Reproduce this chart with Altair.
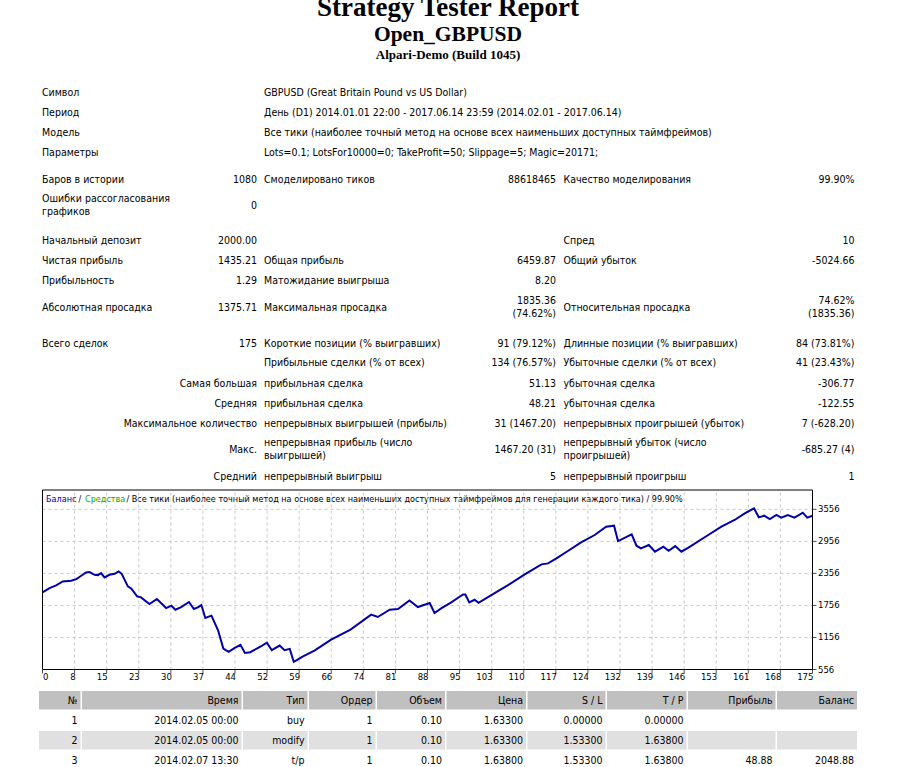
import altair as alt
import pandas as pd

# ---------------- data ----------------
report_title = "Strategy Tester Report"
expert_name = "Open_GBPUSD"
server_name = "Alpari-Demo (Build 1045)"

info_labels = ["Символ", "Период", "Модель", "Параметры"]
info_values = [
    "GBPUSD (Great Britain Pound vs US Dollar)",
    "День (D1) 2014.01.01 22:00 - 2017.06.14 23:59 (2014.02.01 - 2017.06.14)",
    "Все тики (наиболее точный метод на основе всех наименьших доступных таймфреймов)",
    "Lots=0.1; LotsFor10000=0; TakeProfit=50; Slippage=5; Magic=20171;",
]

stat_rows = [
    ["Баров в истории", "1080", "Смоделировано тиков", "88618465", "Качество моделирования", "99.90%"],
    ["Ошибки рассогласования\nграфиков", "0", "", "", "", ""],
    ["Начальный депозит", "2000.00", "", "", "Спред", "10"],
    ["Чистая прибыль", "1435.21", "Общая прибыль", "6459.87", "Общий убыток", "-5024.66"],
    ["Прибыльность", "1.29", "Матожидание выигрыша", "8.20", "", ""],
    ["Абсолютная просадка", "1375.71", "Максимальная просадка", "1835.36\n(74.62%)", "Относительная просадка", "74.62%\n(1835.36)"],
    ["Всего сделок", "175", "Короткие позиции (% выигравших)", "91 (79.12%)", "Длинные позиции (% выигравших)", "84 (73.81%)"],
    ["", "", "Прибыльные сделки (% от всех)", "134 (76.57%)", "Убыточные сделки (% от всех)", "41 (23.43%)"],
    ["", "Самая большая", "прибыльная сделка", "51.13", "убыточная сделка", "-306.77"],
    ["", "Средняя", "прибыльная сделка", "48.21", "убыточная сделка", "-122.55"],
    ["", "Максимальное количество", "непрерывных выигрышей (прибыль)", "31 (1467.20)", "непрерывных проигрышей (убыток)", "7 (-628.20)"],
    ["", "Макс.", "непрерывная прибыль (число\nвыигрышей)", "1467.20 (31)", "непрерывный убыток (число\nпроигрышей)", "-685.27 (4)"],
    ["", "Средний", "непрерывный выигрыш", "5", "непрерывный проигрыш", "1"],
]

legend_parts = ["Баланс", "/", "Средства",
                "/ Все тики (наиболее точный метод на основе всех наименьших доступных таймфреймов для генерации каждого тика) / 99.90%"]

trade_no = [0, 1.6, 3.1, 4.6, 6.5, 7.7, 8.8, 9.9, 10.7, 11.8,
            12.6, 13.3, 14.1, 15.2, 16.4, 17.3, 18.0, 19.4, 20.2, 21.5,
            22.4, 24.3, 26.0, 28.1, 29.3, 30.2, 31.5, 33.3, 34.4, 35.3,
            36.1, 37.0, 38.4, 39.9, 41.1, 42.3, 43.7, 45.0, 46.0, 47.2,
            49.7, 51.0, 52.1, 53.9, 55.0, 56.2, 57.1, 58.0, 59.0, 61.8,
            65.6, 70.0, 74.7, 76.2, 78.9, 80.8, 83.4, 85.3, 88.0, 89.1,
            90.6, 92.9, 94.8, 95.6, 96.1, 97.0, 98.2, 99.1, 102.0, 105.8,
            109.6, 113.4, 114.9, 116.8, 119.4, 122.4, 125.5, 128.1, 129.9, 130.8,
            133.9, 135.0, 136.0, 137.8, 139.2, 141.1, 142.3, 143.8, 145.2, 146.8,
            151.3, 154.3, 157.3, 159.6, 161.7, 162.8, 164.0, 165.3, 166.8, 167.9,
            169.4, 170.9, 172.8, 173.8, 175.0]
balance = [2000, 2081, 2131, 2205, 2218, 2249, 2311, 2373, 2380, 2330,
           2324, 2361, 2280, 2330, 2348, 2392, 2348, 2112, 2068, 1925,
           1907, 1782, 1876, 1707, 1751, 1676, 1726, 1820, 1689, 1720,
           1763, 1521, 1564, 1290, 948, 886, 961, 1017, 867, 880,
           992, 1060, 917, 1004, 917, 942, 699, 743, 793, 911,
           1116, 1303, 1583, 1539, 1676, 1689, 1850, 1726, 1801, 1614,
           1700, 1812, 1918, 1962, 1962, 1812, 1862, 1806, 1950, 2137,
           2337, 2525, 2543, 2637, 2775, 2937, 3075, 3231, 3250, 2962,
           3087, 2875, 2825, 2887, 2762, 2856, 2781, 2868, 2762, 2837,
           3075, 3231, 3356, 3481, 3575, 3406, 3437, 3375, 3450, 3400,
           3450, 3400, 3493, 3400, 3435]

x_tick_labels = ["0", "8", "15", "23", "30", "37", "44", "52", "59", "66", "74", "81", "88",
                 "95", "103", "110", "117", "124", "132", "139", "146", "153", "161", "168", "175"]
y_tick_values = [556, 1156, 1756, 2356, 2956, 3556]

table_columns = ["№", "Время", "Тип", "Ордер", "Объем", "Цена", "S / L", "T / P", "Прибыль", "Баланс"]
table_rows = [
    ["1", "2014.02.05 00:00", "buy", "1", "0.10", "1.63300", "0.00000", "0.00000", "", ""],
    ["2", "2014.02.05 00:00", "modify", "1", "0.10", "1.63300", "1.53300", "1.63800", "", ""],
    ["3", "2014.02.07 13:30", "t/p", "1", "0.10", "1.63800", "1.53300", "1.63800", "48.88", "2048.88"],
]

# ---------------- layout ----------------
SANS = "DejaVu Sans Condensed, Liberation Sans, sans-serif"
SERIF = "Liberation Serif, Times New Roman, serif"
FS = 10.5
LH = 13

def text_layer(recs, align, size=FS, font=SANS, weight="normal", baseline="middle"):
    df = pd.DataFrame(recs)
    return alt.Chart(df).mark_text(
        align=align, baseline=baseline, font=font, fontSize=size, fontWeight=weight,
        lineBreak="\n", lineHeight=LH
    ).encode(
        x=alt.X("x:Q", scale=None),
        y=alt.Y("y:Q", scale=None),
        text="text:N",
        color=alt.Color("color:N", scale=None),
    )

def centred_y(y, t):
    # centre a multi-line block on its row
    return y - (t.count("\n")) * LH / 2

layers = []

# titles
layers.append(text_layer([dict(x=448, y=16, text=report_title, color="black")], "center", 27, SERIF, "bold", "alphabetic"))
layers.append(text_layer([dict(x=448, y=40.5, text=expert_name, color="black")], "center", 21.5, SERIF, "bold", "alphabetic"))
layers.append(text_layer([dict(x=448, y=58.5, text=server_name, color="black")], "center", 13, SERIF, "bold", "alphabetic"))

# info block
info_y = [92.5, 112.5, 132.5, 152.5]
recs_left = []
recs_right = []
for lab, val, y in zip(info_labels, info_values, info_y):
    recs_left.append(dict(x=42, y=y, text=lab, color="black"))
    recs_left.append(dict(x=264, y=y, text=val, color="black"))

stat_y = [179.5, 205.5, 241, 261, 281, 307.5, 343.5, 363, 383.5, 403.5, 423.5, 449.5, 476.5]
anchors = [(42, "left"), (257, "right"), (264, "left"), (556, "right"), (563.5, "left"), (854.5, "right")]
for row, y in zip(stat_rows, stat_y):
    for (ax, al), t in zip(anchors, row):
        if t:
            (recs_left if al == "left" else recs_right).append(
                dict(x=ax, y=centred_y(y, t), text=t, color="black"))

layers.append(text_layer(recs_left, "left"))
layers.append(text_layer(recs_right, "right"))

# chart legend line
leg_x = [46, 78.5, 85, 126.5]
leg_col = ["#00009C", "black", "#00B000", "black"]
layers.append(text_layer([dict(x=x, y=499, text=t, color=c) for x, t, c in zip(leg_x, legend_parts, leg_col)], "left", 9))

# table
col_starts = [39, 82, 243, 309, 377, 446.5, 527.5, 607, 688, 777, 858.5]
row_tops = [691, 711, 731, 751, 771]
row_fill = ["#C0C0C0", "white", "#E0E0E0", "white"]
rects = []
cells = []
all_rows = [table_columns] + table_rows
for r, row in enumerate(all_rows):
    for c, t in enumerate(row):
        x0, x1 = col_starts[c], col_starts[c + 1] - 1.5
        y0, y1 = row_tops[r], row_tops[r + 1] - 1.5
        rects.append(dict(x=x0, x2=x1, y=y0, y2=y1, color=row_fill[r]))
        if t:
            cells.append(dict(x=x1 - 3, y=(y0 + y1) / 2 + 0.5, text=t, color="black"))
layers.append(
    alt.Chart(pd.DataFrame(rects)).mark_rect().encode(
        x=alt.X("x:Q", scale=None), x2="x2:Q",
        y=alt.Y("y:Q", scale=None), y2="y2:Q",
        color=alt.Color("color:N", scale=None),
    )
)
layers.append(text_layer(cells, "right"))

page = alt.layer(*layers)

# ---------------- balance graph ----------------
X0, X1 = 0, 175
Y0, Y1 = 556, 3918
XS = alt.Scale(domain=[X0, X1], range=[42.5, 812.5], nice=False, zero=False)
YS = alt.Scale(domain=[Y0, Y1], range=[669.5, 490], nice=False, zero=False)

grid_x = [k * X1 / 24 for k in range(1, 24)]
vgrid = alt.Chart(pd.DataFrame({"gx": grid_x, "y0": Y0, "y1": Y1})).mark_rule(
    color="#C8C8C8", strokeDash=[3, 3], strokeWidth=1
).encode(x=alt.X("gx:Q", scale=XS, axis=None), y=alt.Y("y0:Q", scale=YS, axis=None), y2="y1:Q")

hgrid = alt.Chart(pd.DataFrame({"gy": y_tick_values[1:], "x0": X0, "x1": X1})).mark_rule(
    color="#C8C8C8", strokeDash=[3, 3], strokeWidth=1
).encode(y=alt.Y("gy:Q", scale=YS, axis=None), x=alt.X("x0:Q", scale=XS, axis=None), x2="x1:Q")

line = alt.Chart(pd.DataFrame({"trade": trade_no, "balance": balance})).mark_line(
    color="#0000A8", strokeWidth=2
).encode(x=alt.X("trade:Q", scale=XS, axis=None), y=alt.Y("balance:Q", scale=YS, axis=None))

frame = alt.Chart(pd.DataFrame({"x0": [X0], "x1": [X1], "y0": [Y0], "y1": [Y1]})).mark_rect(
    fillOpacity=0, stroke="black", strokeWidth=1
).encode(x=alt.X("x0:Q", scale=XS, axis=None), x2="x1:Q", y=alt.Y("y0:Q", scale=YS, axis=None), y2="y1:Q")

yticks = alt.Chart(pd.DataFrame({"v": y_tick_values, "xe": X1})).mark_tick(
    orient="horizontal", size=4, thickness=1, xOffset=2, color="black"
).encode(x=alt.X("xe:Q", scale=XS, axis=None), y=alt.Y("v:Q", scale=YS, axis=None))

tick_pos = [k * X1 / 24 for k in range(25)]
xticks = alt.Chart(pd.DataFrame({"t": tick_pos, "yb": Y0})).mark_tick(
    orient="vertical", size=4, thickness=1, yOffset=2, color="black"
).encode(x=alt.X("t:Q", scale=XS, axis=None), y=alt.Y("yb:Q", scale=YS, axis=None))

ylabels = alt.Chart(pd.DataFrame({"v": y_tick_values, "xe": X1, "lab": [str(v) for v in y_tick_values]})).mark_text(
    align="left", baseline="middle", dx=5.5, font=SANS, fontSize=9.5, color="black"
).encode(x=alt.X("xe:Q", scale=XS, axis=None), y=alt.Y("v:Q", scale=YS, axis=None), text="lab:N")

xl_df = pd.DataFrame({"t": tick_pos, "lab": x_tick_labels, "yb": Y0})
xlabels_first = alt.Chart(xl_df.iloc[:1]).mark_text(
    align="left", baseline="middle", dy=7.5, dx=0.5, font=SANS, fontSize=9.5, color="black"
).encode(x=alt.X("t:Q", scale=XS, axis=None), y=alt.Y("yb:Q", scale=YS, axis=None), text="lab:N")
xlabels_rest = alt.Chart(xl_df.iloc[1:]).mark_text(
    align="right", baseline="middle", dy=7.5, dx=1, font=SANS, fontSize=9.5, color="black"
).encode(x=alt.X("t:Q", scale=XS, axis=None), y=alt.Y("yb:Q", scale=YS, axis=None), text="lab:N")

graph = alt.layer(vgrid, hgrid, line, frame, yticks, xticks, ylabels, xlabels_first, xlabels_rest)

chart = alt.layer(page, graph).resolve_scale(x="independent", y="independent").properties(
    width=906, height=767, padding=0, autosize=alt.AutoSizeParams(type="none")
).configure_view(strokeOpacity=0)

chart.save("out.html", embed_options={"renderer": "svg", "actions": False})
